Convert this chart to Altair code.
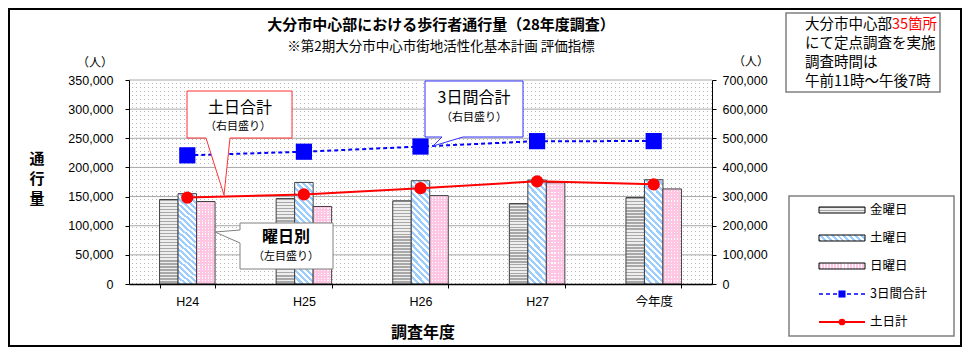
import math
import altair as alt
import pandas as pd

# ---------------- data ----------------
years = ["H24", "H25", "H26", "H27", "今年度"]
days = ["金曜日", "土曜日", "日曜日"]
fri = [145000, 146600, 142700, 138000, 148300]
sat = [155000, 174300, 177200, 178400, 178900]
sun = [141500, 133000, 151700, 173800, 163100]
total3 = [441500, 453900, 471600, 490200, 490300]
weekend = [296500, 307300, 328900, 352200, 342000]
left_ticks = [0, 50000, 100000, 150000, 200000, 250000, 300000, 350000]
right_ticks = [0, 100000, 200000, 300000, 400000, 500000, 600000, 700000]
legend_labels = ["金曜日", "土曜日", "日曜日", "3日間合計", "土日計"]

JP = "Noto Sans CJK JP"
NUM = "Liberation Sans"
W, H = 583, 204
TRANSP = "rgba(255,255,255,0)"


def stops_list(c1, c2, n, f1):
    st = []
    for i in range(n):
        a, b, c = i / n, (i + f1) / n, (i + 1) / n
        st += [{"offset": round(a, 5), "color": c1}, {"offset": round(b, 5), "color": c1},
               {"offset": round(b, 5), "color": c2}, {"offset": round(c, 5), "color": c2}]
    return st


def grad(c1, c2, n, f1, x1, y1, x2, y2):
    return {"gradient": "linear", "stops": stops_list(c1, c2, n, f1),
            "x1": x1, "y1": y1, "x2": x2, "y2": y2}


def diag(w, h, period, c1, c2, f1):
    t = (1 / h + 1 / w) / (1 / h ** 2 + 1 / w ** 2)
    n = max(1, round((w + h) / math.sqrt(2) / period))
    return grad(c1, c2, n, f1, 0, 1, round(t / h, 4), round(1 - t / w, 4))


FRI_FILL = grad("#a8a8a8", "#eeeeee", 28, 0.55, 0, 0, 0, 1)
SAT_FILL = diag(18.5, 100, 4.3, "#9ccdff", "#ffffff", 0.5)
SUN_COLS = grad("#ffc6e3", "#ffffff", 6, 0.62, 0, 0, 1, 0)
SUN_ROWS = grad("#ffc6e3", TRANSP, 30, 0.62, 0, 0, 0, 1)

one = pd.DataFrame({"k": [0]})

# ---------------- scales / axes ----------------
xscale = alt.Scale(domain=years, paddingInner=0.524, paddingOuter=0.262)
xaxis = alt.Axis(title=None, labelFont=f"{NUM}, {JP}", labelFontSize=12.5, labelColor="#000",
                 labelPadding=7, tickSize=4, tickBand="extent", tickColor="#000",
                 domainColor="#000", domainWidth=1.5, labelAngle=0, zindex=1)
lscale = alt.Scale(domain=[0, 350000], nice=False)
laxis = alt.Axis(values=left_ticks, format=",.0f", title=None, grid=False, labelFont=NUM,
                 labelFontSize=12.5, labelColor="#000", labelPadding=12, tickSize=4,
                 tickColor="#000", domainColor="#000", domainWidth=1, zindex=1)
rscale = alt.Scale(domain=[0, 700000], nice=False)
raxis = alt.Axis(values=right_ticks, format=",.0f", title=None, grid=False, orient="right",
                 labelFont=NUM, labelFontSize=12.5, labelColor="#000", labelPadding=6,
                 tickSize=4, tickColor="#000", domainColor="#000", domainWidth=1, zindex=1)

bx = alt.X("year:N", sort=years, scale=xscale, axis=xaxis)

# ---------------- background ----------------
bg1 = alt.Chart(one).mark_rect(fill=grad("#ffffff", "#b8b8b8", 146, 0.75, 0, 0, 1, 0)).encode(
    x=alt.value(0), x2=alt.value(W), y=alt.value(0), y2=alt.value(H))
bg2 = alt.Chart(one).mark_rect(fill=grad("#ffffff", TRANSP, 51, 0.75, 0, 0, 0, 1)).encode(
    x=alt.value(0), x2=alt.value(W), y=alt.value(0), y2=alt.value(H))

grid = alt.Chart(pd.DataFrame({"v": left_ticks[1:]})).mark_rule(color="#a8a8a8", strokeWidth=1).encode(
    y=alt.Y("v:Q", scale=lscale, axis=laxis))

# ---------------- bars ----------------
rows = []
for i, yv in enumerate(years):
    rows.append({"year": yv, "day": days[0], "value": fri[i]})
    rows.append({"year": yv, "day": days[1], "value": sat[i]})
    rows.append({"year": yv, "day": days[2], "value": sun[i]})
df_bars = pd.DataFrame(rows)


def bar_layer(day, fill, stroke=True):
    kw = dict(fill=fill, fillOpacity=1)
    if stroke:
        kw.update(stroke="#404040", strokeWidth=1)
    else:
        kw.update(strokeWidth=0)
    return alt.Chart(df_bars).transform_filter(alt.datum.day == day).mark_bar(**kw).encode(
        x=bx,
        xOffset=alt.XOffset("day:N", scale=alt.Scale(domain=days, paddingInner=0, paddingOuter=0)),
        y=alt.Y("value:Q", scale=lscale, axis=laxis))


left_group = alt.layer(
    bg1, bg2, grid,
    bar_layer(days[0], FRI_FILL),
    bar_layer(days[1], SAT_FILL),
    bar_layer(days[2], SUN_COLS, stroke=False),
    bar_layer(days[2], SUN_ROWS),
)

# ---------------- lines ----------------
df_lines = pd.DataFrame({"year": years, "total3": total3, "weekend": weekend})
blue_line = alt.Chart(df_lines).mark_line(color="#0000ff", strokeDash=[4, 3], strokeWidth=2).encode(
    x=bx, y=alt.Y("total3:Q", scale=rscale, axis=raxis))
blue_pts = alt.Chart(df_lines).mark_square(size=262, color="#0000ff", opacity=1).encode(
    x=bx, y=alt.Y("total3:Q", scale=rscale, axis=raxis))
red_line = alt.Chart(df_lines).mark_line(color="#ff0000", strokeWidth=2).encode(
    x=bx, y=alt.Y("weekend:Q", scale=rscale, axis=raxis))
red_pts = alt.Chart(df_lines).mark_circle(size=150, color="#ff0000", opacity=1).encode(
    x=bx, y=alt.Y("weekend:Q", scale=rscale, axis=raxis))
right_group = alt.layer(blue_line, blue_pts, red_line, red_pts)


# ---------------- annotations ----------------
def txt(s, x, y, size, weight="normal", color="#000", align="center", font=JP, lh=None):
    kw = dict(text=s, fontSize=size, fontWeight=weight, color=color,
              align=align, baseline="middle", font=font)
    if lh is not None:
        kw["lineHeight"] = lh
    return alt.Chart(one).mark_text(**kw).encode(x=alt.value(x), y=alt.value(y))


def box(x1, y1, x2, y2, stroke, sw=1.0, fill="white"):
    return alt.Chart(one).mark_rect(fill=fill, stroke=stroke, strokeWidth=sw).encode(
        x=alt.value(x1), x2=alt.value(x2), y=alt.value(y1), y2=alt.value(y2))


def shape(path, stroke):
    return alt.Chart(one).mark_point(shape=path, size=4, filled=True, fill="white", fillOpacity=1,
                                     stroke=stroke, strokeWidth=1, strokeOpacity=1, opacity=1).encode(
        x=alt.value(0), y=alt.value(0))


ann = []
# outer frame
ann.append(alt.Chart(one).mark_rect(fillOpacity=0, stroke="#000", strokeWidth=2).encode(
    x=alt.value(-120), x2=alt.value(832), y=alt.value(-71), y2=alt.value(266)))
# titles
ann.append(txt("大分市中心部における歩行者通行量（28年度調査）", 312, -55, 15, "bold"))
ann.append(txt("※第2期大分市中心市街地活性化基本計画  評価指標", 312, -33, 13.5))
ann.append(txt("（人）", -34, -17, 12))
ann.append(txt("（人）", 622, -18, 12))
ann.append(txt(["通", "行", "量"], -92, 79, 15, "bold", lh=20))
ann.append(txt("調査年度", 294, 253, 16, "bold"))
# info box
ann.append(box(657, -67, 811, 12, "#808080", 1.5))
ann.append(txt("大分市中心部", 676, -55, 14.5, align="left"))
ann.append(txt("35箇所", 763, -55, 14.5, color="#ff0000", align="left"))
ann.append(txt("にて定点調査を実施", 676, -36, 14.5, align="left"))
ann.append(txt("調査時間は", 676, -17, 14.5, align="left"))
ann.append(txt("午前11時～午後7時", 676, 2, 14.5, align="left"))
# callouts
ann.append(shape("M58,11 L163,11 L163,58 L101,58 L95,115 L77,58 L58,58 Z", "#ff3030"))
ann.append(txt("土日合計", 111, 28, 16))
ann.append(txt("（右目盛り）", 109, 47, 11))
ann.append(shape("M296,1 L394,1 L394,57 L334,57 L304,66 L313,57 L296,57 Z", "#3030ff"))
ann.append(txt("3日間合計", 345, 18, 16))
ann.append(txt("（右目盛り）", 345, 38, 11))
ann.append(shape("M111,143 L204,143 L204,189 L111,189 L111,163 L86,152 L111,150 Z", "#808080"))
ann.append(txt("曜日別", 157, 157, 16, "bold"))
ann.append(txt("（左目盛り）", 157, 177, 11))
# legend
ann.append(box(660, 116, 825, 256, "#808080", 1.5))
ly = [130, 158, 186, 214, 242]
sx1, sx2 = 690, 736
ann.append(box(sx1, ly[0] - 3, sx2, ly[0] + 3, "#000", 1, fill=grad("#a8a8a8", "#eeeeee", 2, 0.5, 0, 0, 0, 1)))
ann.append(box(sx1, ly[1] - 3, sx2, ly[1] + 3, "#000", 1, fill=diag(46, 6, 4.3, "#9ccdff", "#ffffff", 0.5)))
ann.append(box(sx1, ly[2] - 3, sx2, ly[2] + 3, "#000", 1, fill=grad("#ffc6e3", "#ffffff", 15, 0.62, 0, 0, 1, 0)))
ann.append(alt.Chart(one).mark_rule(color="#0000ff", strokeDash=[4, 3], strokeWidth=1.5).encode(
    x=alt.value(sx1), x2=alt.value(sx2), y=alt.value(ly[3])))
ann.append(alt.Chart(one).mark_square(size=50, color="#0000ff", opacity=1).encode(
    x=alt.value((sx1 + sx2) / 2), y=alt.value(ly[3])))
ann.append(alt.Chart(one).mark_rule(color="#ff0000", strokeWidth=2).encode(
    x=alt.value(sx1), x2=alt.value(sx2), y=alt.value(ly[4])))
ann.append(alt.Chart(one).mark_circle(size=45, color="#ff0000", opacity=1).encode(
    x=alt.value((sx1 + sx2) / 2), y=alt.value(ly[4])))
for lab, yy in zip(legend_labels, ly):
    ann.append(txt(lab, 741, yy, 12.5, align="left"))

chart = alt.layer(left_group, right_group, *ann).resolve_scale(y="independent").properties(
    width=W, height=H,
    autosize=alt.AutoSizeParams(type="none"),
    padding={"left": 121, "top": 72, "right": 250, "bottom": 63},
    background="white",
).configure_view(stroke=None)

chart.save("out.html", embed_options={"renderer": "svg", "actions": False})
